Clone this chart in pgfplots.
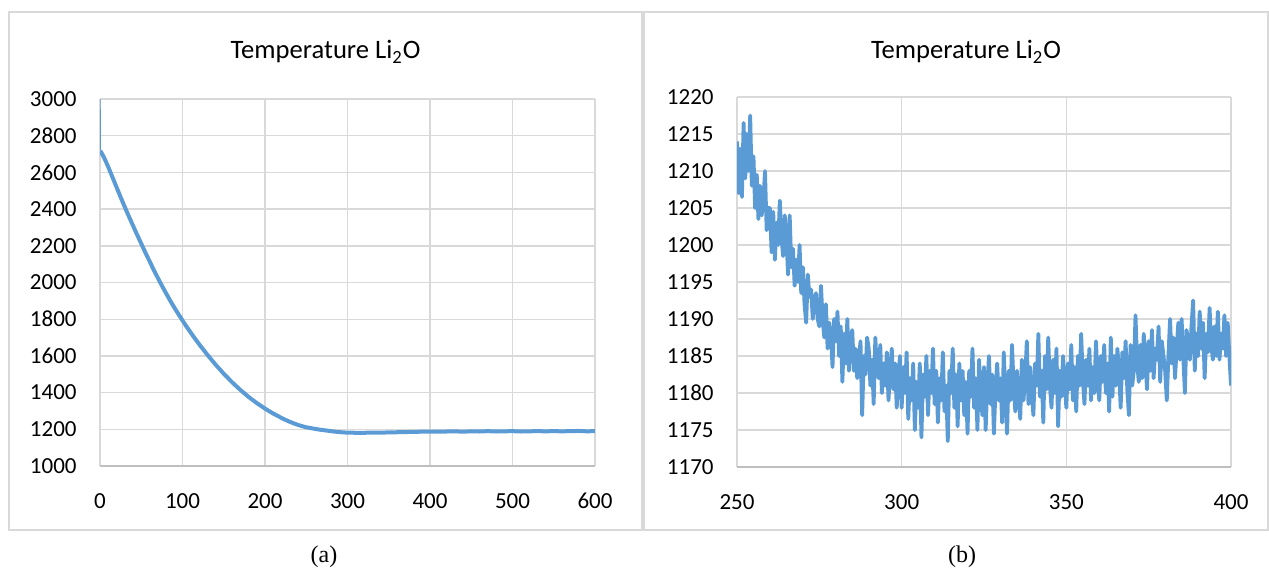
\documentclass[border=0pt]{standalone}
\usepackage{fontspec}
\setmainfont{Carlito}
\newfontfamily\capfont{Liberation Serif}
\usepackage{pgfplots}
\pgfplotsset{compat=1.18}

\definecolor{series}{HTML}{5B9BD5}
\definecolor{gridgray}{HTML}{D9D9D9}
\definecolor{axisgray}{HTML}{BFBFBF}
\definecolor{framegray}{HTML}{D9D9D9}

\pgfplotsset{
  excelstyle/.style={
    scale only axis,
    anchor=south west,
    axis line style={draw=none},
    tick style={draw=none},
    major tick length=0pt,
    tick pos=left,
    grid=major,
    major grid style={gridgray, line width=0.7pt},
    tick label style={font=\fontsize{11.5}{13}\selectfont},
    /pgf/number format/assume math mode=true,
    /pgf/number format/1000 sep={},
    yticklabel style={anchor=east, inner sep=0pt, xshift=-11.5pt},
    xticklabel style={anchor=north, inner sep=0pt, yshift=-13.5pt},
    clip=true,
  },
}

\begin{document}
\begin{tikzpicture}
\useasboundingbox (0,0) rectangle (634.5pt,-284pt);

% chart frames
\draw[framegray, line width=0.9pt] (4.5pt,-6pt) rectangle (321pt,-265pt);
\draw[framegray, line width=0.9pt] (322pt,-6pt) rectangle (634pt,-265pt);

% titles and captions
\node[font=\fontsize{13.3}{15}\selectfont] at (162.75pt,-26pt) {Temperature Li\textsubscript{2}O};
\node[font=\fontsize{13.3}{15}\selectfont] at (483pt,-26pt) {Temperature Li\textsubscript{2}O};
\node[font=\capfont\fontsize{12}{14}\selectfont] at (162pt,-278.5pt) {(a)};
\node[font=\capfont\fontsize{12}{14}\selectfont] at (481pt,-278.5pt) {(b)};

% (a) full run
\begin{axis}[excelstyle,
  at={(50pt,-233pt)}, width=247.5pt, height=183.5pt,
  xmin=0, xmax=600, ymin=1000, ymax=3000,
  xtick={0,100,...,600}, ytick={1000,1200,...,3000},
]
\draw[axisgray, line width=0.75pt] (rel axis cs:0,0) -- (rel axis cs:1,0);
\addplot[series, line width=0.7pt] coordinates {(0,3000) (0.3,2720)};
\addplot[series, line width=2pt, line join=round] coordinates {
 (0.3,2718) (2,2705) (5,2680) (10,2630) (15,2575) (20,2520) (25,2465)
 (30,2412) (35,2360) (40,2310) (45,2260) (50,2212) (55,2163) (60,2117)
 (65,2070) (70,2026) (75,1983) (80,1942) (85,1902) (90,1864) (95,1828)
 (100,1793) (105,1759) (110,1727) (115,1695) (120,1665) (125,1636)
 (130,1607) (135,1580) (140,1553) (145,1528) (150,1503) (155,1480)
 (160,1457) (165,1436) (170,1415) (175,1396) (180,1377) (185,1360)
 (190,1343) (195,1328) (200,1313) (205,1299) (210,1286) (215,1274)
 (220,1262) (225,1251) (230,1241) (235,1232) (240,1224) (245,1217)
 (250,1211) (255,1207) (260,1203) (265,1199) (270,1196) (275,1193)
 (280,1190) (285,1187) (290,1185) (295,1183) (300,1182) (310,1181)
 (320,1181) (330,1182) (340,1182) (350,1183) (360,1184) (370,1185)
 (380,1186) (390,1187) (400,1188) (410,1187) (420,1188) (430,1189)
 (440,1187) (450,1189) (460,1188) (470,1190) (480,1188) (490,1189)
 (500,1190) (510,1188) (520,1189) (530,1190) (540,1189) (550,1190)
 (560,1189) (570,1190) (580,1191) (590,1189) (600,1190)};
\end{axis}

% (b) detail 250-400
\begin{axis}[excelstyle,
  at={(368.5pt,-233.5pt)}, width=247pt, height=185pt,
  xmin=250, xmax=400, ymin=1170, ymax=1220,
  xtick={250,300,350,400}, ytick={1170,1175,...,1220},
]
\draw[axisgray, line width=0.75pt] (rel axis cs:0,0) -- (rel axis cs:1,0);
\addplot[series, line width=1.9pt, line join=round] table[row sep=\\] {
x y\\
250 1214\\ 250.5 1207\\ 251 1213\\ 251.5 1206.5\\ 252 1216.5\\ 252.5 1209\\ 253 1215\\ 253.5 1210\\ 254 1217.5\\ 254.5 1208\\
255 1212\\ 255.5 1205\\ 256 1209.5\\ 256.5 1203.5\\ 257 1208\\ 257.5 1204\\ 258 1206\\ 258.5 1210\\ 259 1202\\ 259.5 1205\\
260 1205\\ 260.5 1199\\ 261 1204.5\\ 261.5 1198\\ 262 1203\\ 262.5 1200\\ 263 1206\\ 263.5 1201\\ 264 1198.5\\ 264.5 1204\\
265 1201\\ 265.5 1196\\ 266 1204\\ 266.5 1197\\ 267 1199.5\\ 267.5 1194.5\\ 268 1198\\ 268.5 1195\\ 269 1200\\ 269.5 1193.5\\
270 1197\\ 270.5 1192\\ 271 1189.5\\ 271.5 1196\\ 272 1193\\ 272.5 1194\\ 273 1190\\ 273.5 1192.5\\ 274 1193.5\\ 274.5 1190\\
275 1189\\ 275.5 1194.5\\ 276 1190\\ 276.5 1187.5\\ 277 1192\\ 277.5 1186\\ 278 1189.5\\ 278.5 1188\\ 279 1183.5\\ 279.5 1190\\
280 1187\\ 280.5 1191\\ 281 1185\\ 281.5 1189\\ 282 1181.5\\ 282.5 1188\\ 283 1184\\ 283.5 1190\\ 284 1183\\ 284.5 1187.5\\
285 1188.5\\ 285.5 1183\\ 286 1186\\ 286.5 1182\\ 287 1184.5\\ 287.5 1187\\ 288 1177\\ 288.5 1185\\ 289 1182.5\\ 289.5 1187.5\\
290 1186\\ 290.5 1181\\ 291 1184.5\\ 291.5 1178.5\\ 292 1187.5\\ 292.5 1183\\ 293 1182\\ 293.5 1186.5\\ 294 1180\\ 294.5 1184\\
295 1181\\ 295.5 1185.5\\ 296 1179\\ 296.5 1183\\ 297 1186\\ 297.5 1180.5\\ 298 1184\\ 298.5 1178\\ 299 1182.5\\ 299.5 1185\\
300 1178\\ 300.5 1183.5\\ 301 1180\\ 301.5 1185.5\\ 302 1176.5\\ 302.5 1182\\ 303 1179\\ 303.5 1184\\ 304 1175\\ 304.5 1181.5\\
305 1178\\ 305.5 1184\\ 306 1174\\ 306.5 1182.5\\ 307 1179.5\\ 307.5 1185\\ 308 1177\\ 308.5 1183\\ 309 1180\\ 309.5 1186\\
310 1178.5\\ 310.5 1183\\ 311 1176\\ 311.5 1182\\ 312 1179\\ 312.5 1185.5\\ 313 1177.5\\ 313.5 1181\\ 314 1173.5\\ 314.5 1183\\
315 1180\\ 315.5 1186\\ 316 1178\\ 316.5 1182.5\\ 317 1175.5\\ 317.5 1184\\ 318 1179\\ 318.5 1183\\ 319 1177\\ 319.5 1181.5\\
320 1174.5\\ 320.5 1183\\ 321 1179.5\\ 321.5 1186\\ 322 1178\\ 322.5 1182\\ 323 1175\\ 323.5 1184.5\\ 324 1180\\ 324.5 1177\\
325 1183.5\\ 325.5 1175\\ 326 1181\\ 326.5 1185\\ 327 1178.5\\ 327.5 1182.5\\ 328 1174.5\\ 328.5 1180.5\\ 329 1184\\ 329.5 1179\\
330 1182\\ 330.5 1176\\ 331 1185.5\\ 331.5 1180\\ 332 1174.5\\ 332.5 1183\\ 333 1179\\ 333.5 1186.5\\ 334 1181\\ 334.5 1177.5\\
335 1183\\ 335.5 1180\\ 336 1176.5\\ 336.5 1184.5\\ 337 1179\\ 337.5 1182\\ 338 1187\\ 338.5 1178.5\\ 339 1183.5\\ 339.5 1180\\
340 1177\\ 340.5 1184\\ 341 1181\\ 341.5 1188\\ 342 1179.5\\ 342.5 1183\\ 343 1176\\ 343.5 1185\\ 344 1180.5\\ 344.5 1187.5\\
345 1181\\ 345.5 1178\\ 346 1184.5\\ 346.5 1180\\ 347 1186\\ 347.5 1175.5\\ 348 1183\\ 348.5 1179.5\\ 349 1185\\ 349.5 1181.5\\
350 1178\\ 350.5 1184\\ 351 1180.5\\ 351.5 1186.5\\ 352 1179\\ 352.5 1183.5\\ 353 1177.5\\ 353.5 1185\\ 354 1181\\ 354.5 1188\\
355 1182\\ 355.5 1178.5\\ 356 1184.5\\ 356.5 1181\\ 357 1186\\ 357.5 1179\\ 358 1183.5\\ 358.5 1180\\ 359 1187\\ 359.5 1182\\
360 1179\\ 360.5 1185\\ 361 1181.5\\ 361.5 1186.5\\ 362 1180\\ 362.5 1184\\ 363 1177.5\\ 363.5 1187.5\\ 364 1179.5\\ 364.5 1185\\
365 1181\\ 365.5 1186\\ 366 1183\\ 366.5 1178\\ 367 1185.5\\ 367.5 1182\\ 368 1187\\ 368.5 1180.5\\ 369 1177\\ 369.5 1186.5\\
370 1181\\ 370.5 1183\\ 371 1190.5\\ 371.5 1184\\ 372 1181.5\\ 372.5 1186.5\\ 373 1182\\ 373.5 1188\\ 374 1184.5\\ 374.5 1180.5\\
375 1187\\ 375.5 1183\\ 376 1188.5\\ 376.5 1182\\ 377 1186\\ 377.5 1184.5\\ 378 1189\\ 378.5 1181.5\\ 379 1187\\ 379.5 1185\\
380 1183\\ 380.5 1179\\ 381 1185\\ 381.5 1190\\ 382 1184\\ 382.5 1187.5\\ 383 1182\\ 383.5 1186\\ 384 1189.5\\ 384.5 1184.5\\
385 1190\\ 385.5 1185\\ 386 1180\\ 386.5 1188.5\\ 387 1187\\ 387.5 1184.5\\ 388 1189\\ 388.5 1192.5\\ 389 1183\\ 389.5 1188\\
390 1185\\ 390.5 1191\\ 391 1186\\ 391.5 1189.5\\ 392 1182\\ 392.5 1188\\ 393 1185.5\\ 393.5 1191.5\\ 394 1186.5\\ 394.5 1184.5\\
395 1189\\ 395.5 1185\\ 396 1191\\ 396.5 1184.5\\ 397 1188\\ 397.5 1186\\ 398 1190.5\\ 398.5 1185\\ 399 1189.5\\ 399.5 1185\\
400 1181\\
};
\end{axis}
\end{tikzpicture}
\end{document}
